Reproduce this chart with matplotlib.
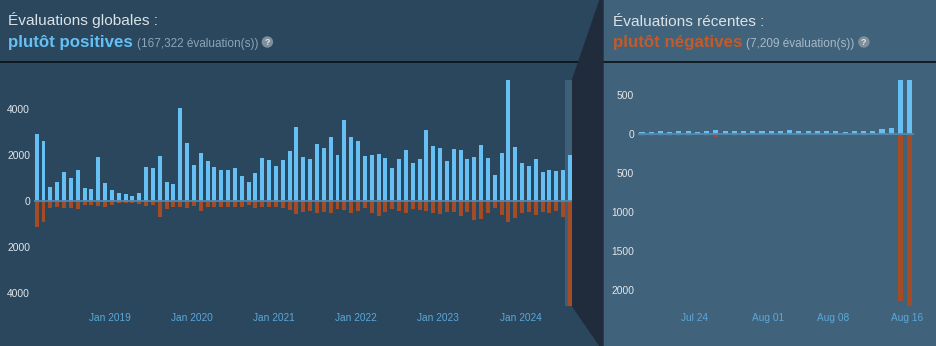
import matplotlib
matplotlib.use('Agg')
import matplotlib.pyplot as plt
from matplotlib.patches import Rectangle, Polygon, Circle
from matplotlib.ticker import FuncFormatter
import pandas as pd

plt.rcParams['font.family'] = ['Liberation Sans', 'DejaVu Sans']

# ---------------- data ----------------
global_title = "Évaluations globales :"
global_summary = "plutôt positives"
global_count = "(167,322 évaluation(s))"
recent_title = "Évaluations récentes :"
recent_summary = "plutôt négatives"
recent_count = "(7,209 évaluation(s))"

months = pd.date_range('2018-02-01', '2024-08-01', freq='MS')
global_pos = [2910, 2600, 600, 830, 1280, 1020, 1350, 570, 540, 1920,
              770, 470, 350, 305, 220, 335, 1480, 1440, 1960, 815,
              730, 4060, 2530, 1560, 2080, 1760, 1470, 1340, 1340, 1430,
              1090, 815, 1210, 1890, 1775, 1530, 1790, 2170, 3245,
              1935, 1850, 2490, 2300, 2810, 1990, 3535, 2780, 2600, 1960,
              2010, 2050, 1890, 1430, 1830, 2225, 1660, 1850, 3100, 2390,
              2300, 1730, 2270, 2225, 1830, 1905, 2460, 1860, 1120, 2095,
              5280, 2360, 1670, 1540, 1830, 1265, 1350, 1310, 1350, 2010]
global_neg = [1120, 900, 290, 260, 320, 290, 360, 175, 160, 200,
              280, 175, 100, 100, 70, 115, 200, 160, 680, 360,
              250, 250, 290, 200, 420, 280, 280, 250, 250, 280,
              250, 175, 290, 250, 250, 250, 290, 390, 580,
              465, 435, 510, 465, 510, 350, 390, 510, 435, 320,
              540, 640, 465, 350, 435, 510, 360, 390, 435, 540,
              580, 465, 465, 640, 465, 830, 785, 540, 320, 610,
              900, 730, 540, 465, 610, 465, 510, 450, 680, 4570]
global_yticks = [-4000, -2000, 0, 2000, 4000]

days = pd.date_range('2024-07-18', '2024-08-16', freq='D')
recent_pos = [30, 26, 38, 30, 43, 43, 30, 38, 51, 38,
              38, 38, 43, 43, 43, 43, 51, 43, 43, 43,
              43, 40, 26, 34, 38, 43, 60, 77, 688, 688]
recent_neg = [20, 22, 25, 20, 22, 22, 18, 22, 35, 18,
              22, 30, 15, 15, 15, 18, 15, 18, 18, 18,
              15, 15, 18, 18, 20, 18, 15, 15, 2135, 2200]
recent_yticks = [-2000, -1500, -1000, -500, 0, 500]
recent_xlabels = ['Jul 24', 'Aug 01', 'Aug 08', 'Aug 16']

# ---------------- styles ----------------
W, H = 936, 346
BG_LEFT = '#2a475e'
BG_RIGHT = '#41627b'
WEDGE = '#202c3c'
POS = '#66c0f4'
NEG = '#a34c25'
NEG_TEXT = '#c25b2b'
YLAB = '#e2e6e9'
XLAB = '#5ba8d8'

fig = plt.figure(figsize=(W / 100, H / 100), dpi=100)
bg = fig.add_axes([0, 0, 1, 1])
bg.set_xlim(0, W)
bg.set_ylim(H, 0)
bg.axis('off')
bg.set_zorder(0)

bg.add_patch(Rectangle((0, 0), 603, H, color=BG_LEFT, zorder=0))
bg.add_patch(Rectangle((603, 0), W - 603, H, color=BG_RIGHT, zorder=0))
bg.plot([0, W], [61.5, 61.5], color='#0a1016', lw=1.2, zorder=1)
bg.add_patch(Polygon([(600, 0), (603, 0), (603, H), (600, H), (572.5, 306), (572.5, 80)],
                     closed=True, color=WEDGE, zorder=2))


def header(x0, title, summary, summary_color, count, count_color):
    bg.text(x0, 25.5, title, fontsize=11.1, color='#dbe2e6', va='baseline', zorder=5)
    t = bg.text(x0, 47, summary, fontsize=12.2, fontweight='bold', color=summary_color,
                va='baseline', zorder=5)
    fig.canvas.draw()
    bb = t.get_window_extent(fig.canvas.get_renderer())
    xe = bg.transData.inverted().transform((bb.x1, bb.y0))[0]
    c = bg.text(xe + 4, 47, count, fontsize=8.5, color=count_color, va='baseline', zorder=5)
    fig.canvas.draw()
    bb2 = c.get_window_extent(fig.canvas.get_renderer())
    xe2 = bg.transData.inverted().transform((bb2.x1, bb2.y0))[0]
    cx = xe2 + 9
    bg.add_patch(Circle((cx, 42), 5, color='#7f909c', zorder=5))
    bg.text(cx, 42.3, '?', fontsize=6.5, fontweight='bold', color='#dfe5e9',
            ha='center', va='center', zorder=6)


header(8, global_title, global_summary, POS, global_count, '#8ea5b7')
header(613, recent_title, recent_summary, NEG_TEXT, recent_count, '#a6bac9')

absfmt = FuncFormatter(lambda v, p: f'{abs(int(v))}')

# ---------------- left chart ----------------
ax1 = fig.add_axes([34 / W, 1 - 306 / H, (572.5 - 34) / W, 226 / H])
ax1.set_zorder(3)
ax1.patch.set_visible(False)
xi = list(range(len(months)))
n = len(xi)
ax1.axvspan(n - 1 - 0.73, n - 1 + 0.3, color='#3e5f78', lw=0, zorder=0)
ax1.bar(xi, global_pos, width=0.58, color=POS, zorder=2)
ax1.bar(xi, [-v for v in global_neg], width=0.58, color=NEG, zorder=2)
ax1.axhline(0, color='#4f86ab', lw=1.3, zorder=3)
ax1.set_xlim(-0.39, n - 1 + 0.37)
ax1.set_ylim(-4585, 5283)
jan_idx = [i for i, m in enumerate(months) if m.month == 1]
ax1.set_xticks([i - 0.25 for i in jan_idx])
ax1.set_xticklabels([months[i].strftime('Jan %Y') for i in jan_idx])
ax1.set_yticks(global_yticks)
ax1.yaxis.set_major_formatter(absfmt)

# ---------------- right chart ----------------
ax2 = fig.add_axes([638 / W, 1 - 306 / H, (914 - 638) / W, 226 / H])
ax2.set_zorder(3)
ax2.patch.set_visible(False)
di = list(range(len(days)))
ax2.bar(di, recent_pos, width=0.55, color=POS, zorder=2)
ax2.bar(di, [-v for v in recent_neg], width=0.55, color=NEG, zorder=2)
ax2.axhline(0, color='#5089b0', lw=1.3, zorder=3)
ax2.set_xlim(-0.43, len(days) - 1 + 0.47)
ax2.set_ylim(-2201, 690)
lab_idx = [i for i, d in enumerate(days) if d.strftime('%b %d') in recent_xlabels]
ax2.set_xticks([i - 0.3 for i in lab_idx])
ax2.set_xticklabels([days[i].strftime('%b %d') for i in lab_idx])
ax2.set_yticks(recent_yticks)
ax2.yaxis.set_major_formatter(absfmt)

for ax in (ax1, ax2):
    for s in ax.spines.values():
        s.set_visible(False)
    ax.tick_params(axis='y', length=0, pad=2.8, labelsize=7.4, labelcolor=YLAB)
    ax.tick_params(axis='x', length=0, pad=5, labelsize=7.3, labelcolor=XLAB)

fig.savefig('out.png', dpi=100)
